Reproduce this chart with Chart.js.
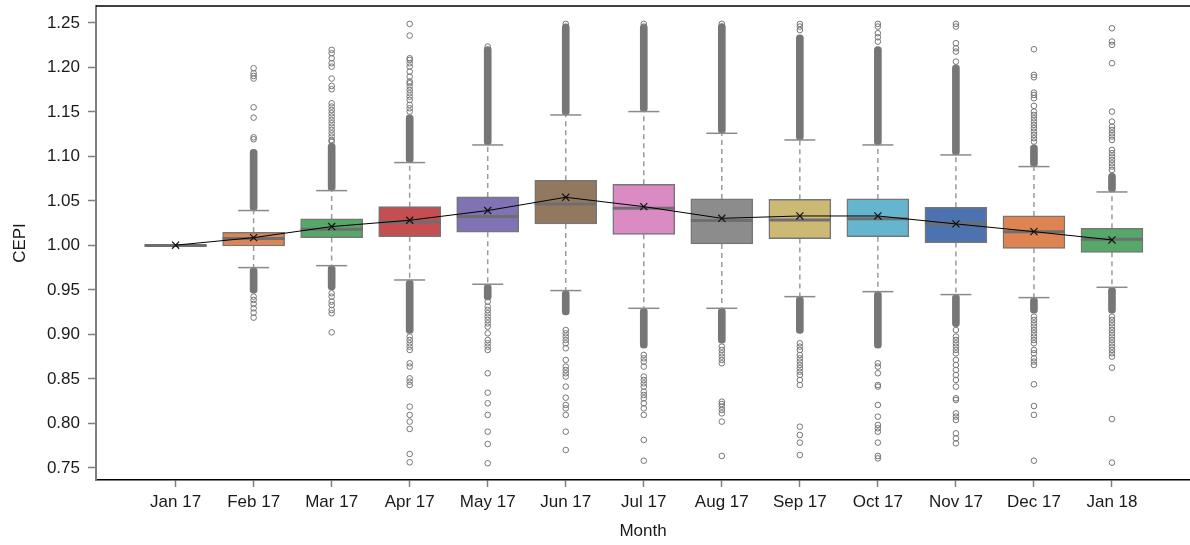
<!DOCTYPE html>
<html>
<head>
<meta charset="utf-8">
<script src="https://cdn.jsdelivr.net/npm/chart.js@4.4.1/dist/chart.umd.min.js"></script>
<style>
  html, body { margin: 0; padding: 0; background: #fff; }
  #wrap { position: relative; width: 1190px; height: 545px; }
</style>
</head>
<body>
<div id="wrap"><canvas id="cepi"></canvas></div>
<script>
// Monthly CEPI distributions: box = quartiles, whiskers, outliers, mean.
const months = ['Jan 17', 'Feb 17', 'Mar 17', 'Apr 17', 'May 17', 'Jun 17', 'Jul 17',
                'Aug 17', 'Sep 17', 'Oct 17', 'Nov 17', 'Dec 17', 'Jan 18'];
const yTicks = [0.75, 0.80, 0.85, 0.90, 0.95, 1.00, 1.05, 1.10, 1.15, 1.20, 1.25];

const q1      = [0.9995, 0.9994, 1.0088, 1.0099, 1.0148, 1.0242, 1.0125, 1.0017, 1.0077, 1.0099, 1.0032, 0.9968, 0.9923];
const q3      = [1.0005, 1.0148, 1.0298, 1.0436, 1.0545, 1.0732, 1.0687, 1.0523, 1.0519, 1.0523, 1.0429, 1.0332, 1.0193];
const medians = [1.0000, 1.0077, 1.0182, 1.0264, 1.0324, 1.0466, 1.0418, 1.0279, 1.0286, 1.0301, 1.0245, 1.0155, 1.0069];
const means   = [1.0003, 1.0088, 1.0212, 1.0283, 1.0392, 1.0541, 1.0436, 1.0305, 1.0331, 1.0331, 1.0242, 1.0155, 1.0062];
const whiskerHigh = [1.0005, 1.0392, 1.0616, 1.0931, 1.1129, 1.1466, 1.1504, 1.1260, 1.1185, 1.1129, 1.1017, 1.0886, 1.0601];
const whiskerLow  = [0.9995, 0.9751, 0.9773, 0.9612, 0.9564, 0.9493, 0.9294, 0.9294, 0.9425, 0.9481, 0.9448, 0.9414, 0.9530];

// Ranges where outliers are packed so tightly they form a solid column
const denseHighTop   = [null, 1.1081, 1.1148, 1.1466, 1.2234, 1.2485, 1.2480, 1.2490, 1.2365, 1.2234, 1.2028, 1.1129, 1.0811];
const denseLowBottom = [null, 0.9463, 0.9500, 0.9013, 0.9388, 0.9219, 0.8845, 0.8901, 0.9013, 0.8845, 0.9088, 0.9238, 0.9238];

// Individual outliers outside the dense ranges
const outJan17 = [];
const outFeb17 = [1.1193, 1.1215, 1.1436, 1.1552, 1.1875, 1.1904, 1.1935, 1.1991,
                  0.9425, 0.9388, 0.9343, 0.9294, 0.9245, 0.9189];
const outMar17 = [1.1167, 1.1185, 1.1223, 1.1260, 1.1298, 1.1335, 1.1373, 1.1410, 1.1448, 1.1485, 1.1522, 1.1560, 1.1597,
                  1.1755, 1.1792, 1.1875, 1.2009, 1.2047, 1.2103, 1.2159, 1.2197,
                  0.9463, 0.9425, 0.9369, 0.9331, 0.9275, 0.9238, 0.9024];
const outApr17 = [1.1504, 1.1541, 1.1579, 1.1635, 1.1672, 1.1710, 1.1747, 1.1785, 1.1822, 1.1841, 1.1897, 1.1953,
                  1.2009, 1.2047, 1.2084, 1.2103, 1.2358, 1.2489,
                  0.8976, 0.8938, 0.8901, 0.8863, 0.8826, 0.8676, 0.8639, 0.8507, 0.8470, 0.8432, 0.8189,
                  0.8096, 0.8021, 0.7938, 0.7657, 0.7564];
const outMay17 = [1.2234,
                  0.9369, 0.9313, 0.9275, 0.9238, 0.9200, 0.9163, 0.9125, 0.9088, 0.9013, 0.8938, 0.8901,
                  0.8863, 0.8826, 0.8564, 0.8346, 0.8227, 0.8096, 0.7908, 0.7769, 0.7553];
const outJun17 = [1.2459, 1.2489,
                  0.9050, 0.9013, 0.8976, 0.8938, 0.8901, 0.8845, 0.8714, 0.8639, 0.8601, 0.8564, 0.8527,
                  0.8414, 0.8290, 0.8208, 0.8170, 0.8096, 0.7908, 0.7702];
const outJul17 = [1.2459, 1.2489,
                  0.8770, 0.8732, 0.8695, 0.8639, 0.8527, 0.8489, 0.8451, 0.8414, 0.8357, 0.8320, 0.8283,
                  0.8227, 0.8170, 0.8096, 0.7815, 0.7582];
const outAug17 = [1.2489, 1.2459, 1.2440,
                  0.8863, 0.8826, 0.8788, 0.8751, 0.8714, 0.8676, 0.8245, 0.8219, 0.8189, 0.8152, 0.8114,
                  0.8021, 0.7635];
const outSep17 = [1.2420, 1.2459, 1.2488,
                  0.8901, 0.8863, 0.8826, 0.8770, 0.8732, 0.8695, 0.8657, 0.8620, 0.8582, 0.8545, 0.8489,
                  0.8432, 0.7964, 0.7871, 0.7785, 0.7646];
const outOct17 = [1.2290, 1.2339, 1.2384, 1.2459, 1.2489,
                  0.8676, 0.8639, 0.8564, 0.8432, 0.8414, 0.8208, 0.8077, 0.7983, 0.7946, 0.7908, 0.7785,
                  0.7635, 0.7608];
const outNov17 = [1.2065, 1.2178, 1.2215, 1.2272, 1.2459, 1.2489,
                  0.9050, 0.8976, 0.8938, 0.8901, 0.8863, 0.8826, 0.8788, 0.8714, 0.8657, 0.8601, 0.8545,
                  0.8489, 0.8414, 0.8283, 0.8264, 0.8114, 0.8077, 0.8039, 0.7889, 0.7833, 0.7777];
const outDec17 = [1.1167, 1.1204, 1.1242, 1.1279, 1.1317, 1.1354, 1.1392, 1.1429, 1.1466, 1.1504, 1.1568, 1.1654,
                  1.1691, 1.1717, 1.1889, 1.1916, 1.2204,
                  0.9200, 0.9163, 0.9125, 0.9088, 0.9050, 0.9013, 0.8976, 0.8938, 0.8901, 0.8826, 0.8788,
                  0.8732, 0.8695, 0.8657, 0.8440, 0.8196, 0.8096, 0.7582];
const outJan18 = [1.0848, 1.0886, 1.0923, 1.0961, 1.0998, 1.1036, 1.1073, 1.1185, 1.1223, 1.1260, 1.1298, 1.1335,
                  1.1392, 1.1504, 1.2047, 1.2253, 1.2291, 1.2440,
                  0.9200, 0.9163, 0.9125, 0.9088, 0.9050, 0.9013, 0.8976, 0.8938, 0.8901, 0.8863, 0.8826,
                  0.8788, 0.8751, 0.8627, 0.8050, 0.7560];
const outliersByMonth = [outJan17, outFeb17, outMar17, outApr17, outMay17, outJun17, outJul17,
                         outAug17, outSep17, outOct17, outNov17, outDec17, outJan18];

const palette = ['#4c72b0', '#dd8452', '#55a868', '#c44e52', '#8172b3', '#937860', '#da8bc3',
                 '#8c8c8c', '#ccb974', '#64b5cd'];
const boxColors = months.map((_, i) => palette[i % palette.length]);

const FONT = "'Liberation Sans', Arial, sans-serif";
const INK = '#1a1a1a';
const EDGE = '#767676';

// Data for the library's datasets
const boxData = months.map((_, i) => ({ x: i, y: [q1[i], q3[i]] }));
const medianData = medians.map((v, i) => ({ x: i, y: v }));
const meanData = means.map((v, i) => ({ x: i, y: v }));
const capData = [];
const whiskerData = [];
months.forEach((_, i) => {
  capData.push({ x: i, y: whiskerHigh[i] }, { x: i, y: whiskerLow[i] });
  whiskerData.push({ x: i, y: q3[i] }, { x: i, y: whiskerHigh[i] }, { x: i, y: null },
                   { x: i, y: q1[i] }, { x: i, y: whiskerLow[i] }, { x: i, y: null });
});
const denseHighData = [];
const denseLowData = [];
months.forEach((_, i) => {
  if (denseHighTop[i] !== null) denseHighData.push({ x: i, y: [whiskerHigh[i], denseHighTop[i]] });
  if (denseLowBottom[i] !== null) denseLowData.push({ x: i, y: [denseLowBottom[i], whiskerLow[i]] });
});
const outlierData = [];
outliersByMonth.forEach((list, i) => list.forEach(v => outlierData.push({ x: i, y: v })));

// Closes the plot frame along the top edge of the chart area
const topFrame = {
  id: 'topFrame',
  afterDraw(chart) {
    const { ctx, chartArea } = chart;
    ctx.save();
    ctx.strokeStyle = '#000';
    ctx.lineWidth = 1.5;
    ctx.beginPath();
    ctx.moveTo(chartArea.left, chartArea.top);
    ctx.lineTo(chartArea.right, chartArea.top);
    ctx.stroke();
    ctx.restore();
  }
};

new Chart(document.getElementById('cepi'), {
  type: 'bar',
  data: {
    datasets: [
      { type: 'line', data: meanData, order: 0, borderColor: '#000', borderWidth: 1,
        pointStyle: 'crossRot', pointRadius: 5, pointBorderWidth: 1.2,
        pointBorderColor: '#111', pointBackgroundColor: '#111', tension: 0 },
      { type: 'scatter', data: medianData, order: 1, pointStyle: 'line', pointRadius: 31,
        pointBorderWidth: 3, pointBorderColor: '#6e6e6e', pointBackgroundColor: '#6e6e6e' },
      { type: 'bar', data: boxData, order: 2, grouped: false, barThickness: 62,
        backgroundColor: boxColors, borderColor: EDGE, borderWidth: 1.5, borderSkipped: false },
      { type: 'scatter', data: capData, order: 3, pointStyle: 'line', pointRadius: 15.5,
        pointBorderWidth: 1.5, pointBorderColor: '#8a8a8a' },
      { type: 'bar', data: denseHighData, order: 4, grouped: false, barThickness: 7,
        backgroundColor: EDGE, borderWidth: 0, borderRadius: 3.5, borderSkipped: false },
      { type: 'bar', data: denseLowData, order: 4, grouped: false, barThickness: 7,
        backgroundColor: EDGE, borderWidth: 0, borderRadius: 3.5, borderSkipped: false },
      { type: 'scatter', data: outlierData, order: 5, pointStyle: 'circle', pointRadius: 2.8,
        pointBorderWidth: 1, pointBorderColor: EDGE, pointBackgroundColor: 'rgba(255,255,255,0)' },
      { type: 'line', data: whiskerData, order: 6, borderColor: '#9a9a9a', borderWidth: 1.5,
        borderDash: [5, 4], pointRadius: 0, spanGaps: false }
    ]
  },
  options: {
    responsive: true,
    maintainAspectRatio: false,
    animation: false,
    events: [],
    layout: { autoPadding: false, padding: { top: 6, right: 0, bottom: 0, left: 0 } },
    plugins: { legend: { display: false }, tooltip: { enabled: false } },
    scales: {
      x: {
        type: 'linear', position: 'bottom', min: -1.02, max: 13, offset: false,
        afterBuildTicks: s => { s.ticks = months.map((_, i) => ({ value: i })); },
        afterFit: s => { s.height = 65; s.paddingLeft = 0; s.paddingRight = 0; },
        grid: { offset: false, drawOnChartArea: false, drawTicks: true, tickLength: 7,
                tickColor: '#808080', tickWidth: 1.5 },
        border: { color: '#000', width: 1.5 },
        ticks: { autoSkip: false, maxRotation: 0, padding: 5, color: INK,
                 font: { family: FONT, size: 17 }, callback: v => months[v] ?? '' },
        title: { display: true, text: 'Month', color: INK, font: { family: FONT, size: 17 },
                 padding: { top: 0, bottom: 3 } }
      },
      y: {
        type: 'linear', min: 0.7365, max: 1.269,
        afterBuildTicks: s => { s.ticks = yTicks.map(v => ({ value: v })); },
        afterFit: s => { s.width = 96; s.paddingTop = 0; s.paddingBottom = 0; },
        grid: { drawOnChartArea: false, drawTicks: true, tickLength: 8, tickColor: '#808080', tickWidth: 1.5 },
        border: { color: '#808080', width: 2 },
        ticks: { padding: 8, color: INK, font: { family: FONT, size: 17 }, callback: v => v.toFixed(2) },
        title: { display: true, text: 'CEPI', color: INK, font: { family: FONT, size: 17 },
                 padding: { top: 10, bottom: 0 } }
      }
    }
  },
  plugins: [topFrame]
});
</script>
</body>
</html>
